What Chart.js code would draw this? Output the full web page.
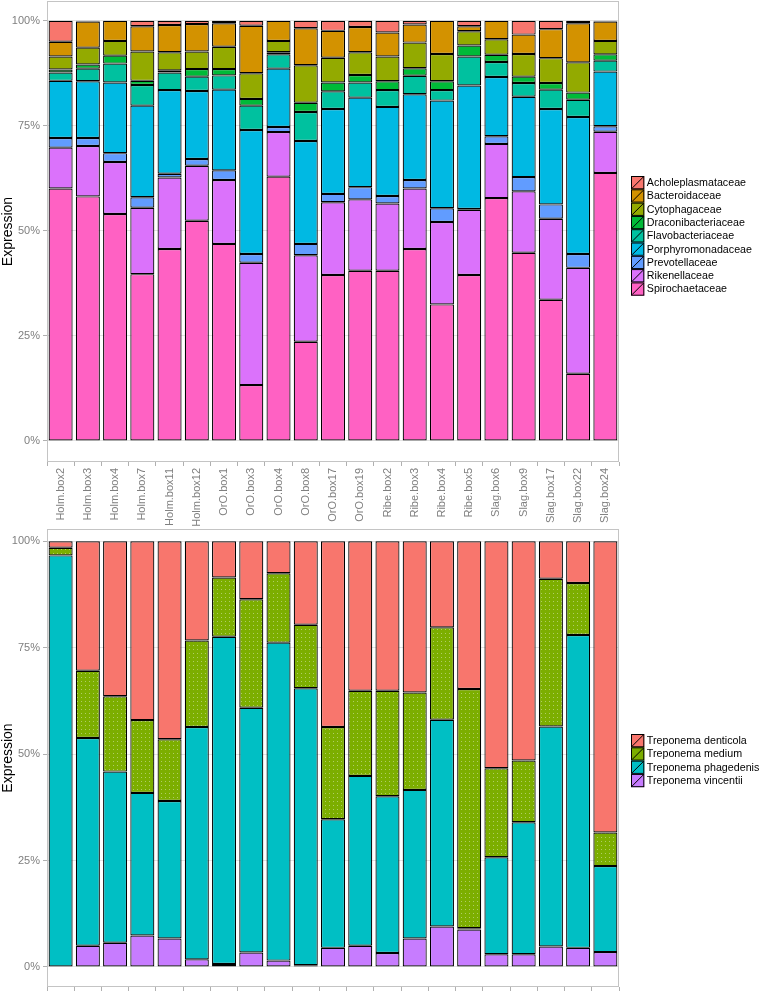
<!DOCTYPE html>
<html>
<head>
<meta charset="utf-8">
<script src="https://cdn.jsdelivr.net/npm/chart.js@4.4.1/dist/chart.umd.min.js"></script>
<style>
    body { margin: 0; background: #fff; }
    canvas { display: block; }
</style>
</head>
<body>
<canvas id="familyChart" width="761" height="528"></canvas>
<canvas id="speciesChart" width="761" height="464"></canvas>
<script>
// samples along the x axis (shared by both panels)
const samples = ['Holm.box2', 'Holm.box3', 'Holm.box4', 'Holm.box7', 'Holm.box11', 'Holm.box12',
    'OrO.box1', 'OrO.box3', 'OrO.box4', 'OrO.box8', 'OrO.box17', 'OrO.box19',
    'Ribe.box2', 'Ribe.box3', 'Ribe.box4', 'Ribe.box5',
    'Slag.box6', 'Slag.box9', 'Slag.box17', 'Slag.box22', 'Slag.box24'];

const yTicks = [0, 25, 50, 75, 100];

// top panel: family level, % of expression
const spirochaetaceae = [60.1, 58.2, 54.0, 39.7, 45.7, 52.4, 46.9, 13.3, 62.9, 23.6, 39.5, 40.5, 40.5, 45.7, 32.5, 39.5, 57.8, 44.8, 33.6, 16.0, 63.8];
const rikenellaceae = [9.7, 12.0, 12.4, 15.8, 17.0, 13.1, 15.2, 29.1, 10.6, 20.6, 17.3, 17.0, 16.0, 14.4, 19.6, 15.5, 12.9, 14.6, 19.3, 25.2, 9.8];
const prevotellaceae = [2.3, 1.9, 2.1, 2.5, 0.9, 1.6, 2.3, 2.1, 1.2, 2.7, 2.0, 2.9, 1.8, 2.0, 3.3, 0.2, 1.8, 3.4, 3.4, 3.3, 1.3];
const porphyromonadaceae = [13.6, 13.5, 16.8, 21.8, 19.9, 16.2, 19.2, 29.5, 13.9, 24.5, 20.2, 21.3, 21.2, 20.4, 25.6, 29.4, 14.1, 19.1, 22.7, 32.6, 13.0];
const flavobacteriaceae = [2.0, 3.0, 4.5, 4.9, 4.2, 3.4, 3.4, 5.8, 3.4, 6.9, 4.2, 3.6, 4.0, 4.4, 2.5, 6.9, 3.6, 3.3, 4.6, 4.1, 2.6];
const draconibacteriaceae = [0.7, 1.0, 1.9, 1.0, 0.5, 1.8, 1.5, 1.6, 0.5, 2.2, 2.1, 1.8, 2.1, 1.8, 2.1, 2.6, 1.7, 1.5, 1.6, 1.7, 1.5];
const cytophagaceae = [3.1, 4.0, 3.5, 7.0, 4.3, 4.2, 5.3, 6.1, 2.7, 8.9, 5.9, 5.4, 5.9, 6.1, 6.5, 3.4, 3.7, 5.4, 5.9, 7.2, 3.2];
const bacteroidaceae = [3.5, 6.2, 4.8, 6.0, 6.5, 6.5, 5.6, 11.3, 4.8, 8.8, 6.4, 6.0, 5.7, 4.3, 7.9, 1.2, 4.4, 4.6, 6.9, 9.3, 4.6];
const acholeplasmataceae = [5.0, 0.2, 0, 1.3, 1.0, 0.8, 0.6, 1.2, 0, 1.8, 2.4, 1.5, 2.8, 0.9, 0, 1.3, 0, 3.3, 2.0, 0.6, 0.2];

// bottom panel: Treponema species
const vincentii = [0, 5.0, 5.7, 7.4, 6.7, 1.8, 0.7, 3.4, 1.5, 0.4, 4.5, 5.0, 3.3, 6.7, 9.5, 8.8, 3.0, 3.0, 4.8, 4.5, 3.5];
const phagedenis = [96.7, 48.8, 40.2, 33.5, 32.3, 54.6, 76.9, 57.5, 74.7, 65.1, 30.2, 39.9, 36.8, 34.9, 48.6, 0.3, 22.8, 31.0, 51.7, 73.5, 20.2];
const medium = [1.8, 15.8, 17.7, 17.1, 14.5, 20.3, 13.9, 25.5, 16.3, 14.9, 21.7, 20.0, 24.8, 22.9, 21.7, 56.2, 20.9, 14.5, 34.7, 12.2, 7.9];
const denticola = [1.5, 30.4, 36.4, 42.0, 46.5, 23.3, 8.5, 13.6, 7.5, 19.6, 43.6, 35.1, 35.1, 35.5, 20.2, 34.7, 53.3, 51.5, 8.8, 9.8, 68.4];

const FONT = "'Liberation Sans', Arial, sans-serif";
const TEXT_GREY = '#7f7f7f';

// white dot texture like the olive bars in the reference
function dotted(base, dot) {
    const c = document.createElement('canvas');
    c.width = 4; c.height = 4;
    const g = c.getContext('2d');
    g.fillStyle = base;
    g.fillRect(0, 0, 4, 4);
    g.fillStyle = dot;
    g.fillRect(1, 1, 1, 1);
    const p = g.createPattern(c, 'repeat');
    p.baseColor = base;
    return p;
}

function bar(label, data, color) {
    return {
        label: label,
        data: data,
        backgroundColor: color,
        borderColor: '#000',
        borderWidth: 1.2,
        borderSkipped: false,
        inflateAmount: 0,
        barPercentage: 0.9,
        categoryPercentage: 0.98,
        legendColor: color.baseColor || color
    };
}

// panel border + legend with slashed keys
const panelPlugin = {
    id: 'panel',
    afterDraw(chart, args, opts) {
        const ctx = chart.ctx;
        const a = chart.chartArea;
        ctx.save();
        ctx.strokeStyle = '#c4c4c4';
        ctx.lineWidth = 1;
        ctx.strokeRect(a.left + 0.5, a.top + 0.5, a.right - a.left - 1, a.bottom - a.top - 1);

        const ds = chart.data.datasets.slice().reverse();
        const key = 13.3;
        let y = opts.top;
        ctx.font = '10.7px ' + FONT;
        ctx.textBaseline = 'middle';
        ds.forEach(d => {
            ctx.fillStyle = d.legendColor;
            ctx.fillRect(opts.left, y, key, key);
            ctx.strokeStyle = '#000';
            ctx.lineWidth = 1;
            ctx.strokeRect(opts.left + 0.5, y + 0.5, key - 1, key - 1);
            ctx.beginPath();
            ctx.moveTo(opts.left + 1, y + key - 1);
            ctx.lineTo(opts.left + key - 1, y + 1);
            ctx.stroke();
            ctx.fillStyle = '#000';
            ctx.fillText(d.label, opts.left + key + 2.5, y + key / 2 + 0.5);
            y += key;
        });
        ctx.restore();
    }
};

function makeChart(id, datasets, yMin, yMax, xHeight, legendTop) {
    return new Chart(document.getElementById(id), {
        type: 'bar',
        data: { labels: samples, datasets: datasets },
        plugins: [panelPlugin],
        options: {
            responsive: false,
            animation: false,
            layout: { padding: { top: 1, right: 142, left: 0, bottom: 0 } },
            plugins: {
                legend: { display: false },
                tooltip: { enabled: false },
                panel: { left: 631, top: legendTop }
            },
            scales: {
                x: {
                    stacked: true,
                    offset: true,
                    border: { display: false },
                    grid: { drawOnChartArea: false, tickLength: 4, tickColor: '#b0b0b0' },
                    ticks: {
                        autoSkip: false, minRotation: 90, maxRotation: 90, padding: 2,
                        color: TEXT_GREY, font: { family: FONT, size: 11 }
                    },
                    afterFit: s => {
                        s.height = xHeight;
                        s.paddingLeft = 0;
                        s.paddingRight = 0;
                    }
                },
                y: {
                    stacked: true,
                    min: yMin,
                    max: yMax,
                    border: { display: false },
                    afterBuildTicks: s => { s.ticks = yTicks.map(v => ({ value: v })); },
                    grid: { color: '#e3e3e3', tickLength: 4, tickColor: '#b0b0b0' },
                    ticks: {
                        padding: 3,
                        color: TEXT_GREY,
                        font: { family: FONT, size: 11 },
                        callback: v => v + '%'
                    },
                    title: {
                        display: true, text: 'Expression', color: '#000',
                        font: { family: FONT, size: 14 }, padding: 0
                    },
                    afterFit: s => {
                        s.width = 47;
                        s.paddingTop = 0;
                        s.paddingBottom = 0;
                    }
                }
            }
        }
    });
}

makeChart('familyChart', [
    bar('Spirochaetaceae', spirochaetaceae, '#FF61C3'),
    bar('Rikenellaceae', rikenellaceae, '#DB72FB'),
    bar('Prevotellaceae', prevotellaceae, '#619CFF'),
    bar('Porphyromonadaceae', porphyromonadaceae, '#00B9E3'),
    bar('Flavobacteriaceae', flavobacteriaceae, '#00C19F'),
    bar('Draconibacteriaceae', draconibacteriaceae, '#00BA38'),
    bar('Cytophagaceae', cytophagaceae, '#93AA00'),
    bar('Bacteroidaceae', bacteroidaceae, '#D39200'),
    bar('Acholeplasmataceae', acholeplasmataceae, '#F8766D')
], -5, 104.7, 66, 176);

makeChart('speciesChart', [
    bar('Treponema vincentii', vincentii, '#C77CFF'),
    bar('Treponema phagedenis', phagedenis, '#00BFC4'),
    bar('Treponema medium', medium, dotted('#7CAE00', 'rgba(255,255,255,0.4)')),
    bar('Treponema denticola', denticola, '#F8766D')
], -4.7, 102.9, 5, 206);
</script>
</body>
</html>
